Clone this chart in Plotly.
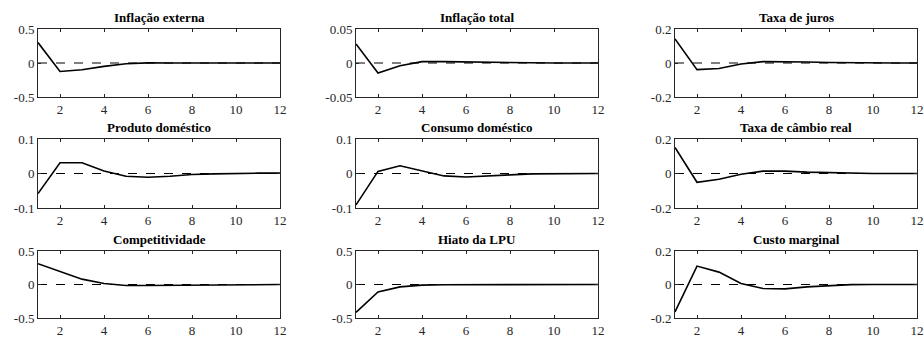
import plotly.graph_objects as go

periods = list(range(1, 13))

titles = ["Inflação externa", "Inflação total", "Taxa de juros",
          "Produto doméstico", "Consumo doméstico", "Taxa de câmbio real",
          "Competitividade", "Hiato da LPU", "Custo marginal"]

inflacao_externa = [0.30, -0.125, -0.10, -0.05, -0.012, 0.002, 0.001, 0.0, 0.0, 0.0, 0.0, 0.0]
inflacao_total = [0.028, -0.0147, -0.004, 0.002, 0.002, 0.0015, 0.0007, 0.0003, 0.0, 0.0, 0.0, 0.0]
taxa_juros = [0.142, -0.039, -0.032, -0.006, 0.008, 0.008, 0.006, 0.003, 0.001, 0.0, 0.0, 0.0]
produto_domestico = [-0.058, 0.031, 0.031, 0.007, -0.008, -0.011, -0.008, -0.003, -0.001, 0.001, 0.001, 0.001]
consumo_domestico = [-0.091, 0.006, 0.0225, 0.007, -0.007, -0.01, -0.008, -0.004, -0.001, 0.0, 0.0, 0.0]
cambio_real = [0.151, -0.051, -0.033, -0.004, 0.014, 0.014, 0.008, 0.004, 0.001, 0.0, 0.0, 0.0]
competitividade = [0.31, 0.19, 0.08, 0.015, -0.015, -0.015, -0.012, -0.005, 0.0, 0.0, 0.0, 0.0]
hiato_lpu = [-0.415, -0.11, -0.035, -0.01, -0.003, -0.001, 0.0, 0.0, 0.0, 0.0, 0.0, 0.0]
custo_marginal = [-0.164, 0.11, 0.074, 0.006, -0.024, -0.026, -0.014, -0.006, -0.001, 0.0, 0.0, 0.0]

series = [inflacao_externa, inflacao_total, taxa_juros,
          produto_domestico, consumo_domestico, cambio_real,
          competitividade, hiato_lpu, custo_marginal]

y_limits = [0.5, 0.05, 0.2, 0.1, 0.1, 0.2, 0.5, 0.5, 0.2]
x_ticks = [2, 4, 6, 8, 10, 12]

W, H = 924, 338
col_px = [(38, 280), (356, 598), (675, 917)]
row_px = [(29, 97), (139, 208), (251, 318)]

font_family = "'Times New Roman', 'Liberation Serif', 'DejaVu Serif', serif"
axis_color = "#262626"

fig = go.Figure()
layout = {}
for i in range(9):
    r, c = divmod(i, 3)
    n = "" if i == 0 else str(i + 1)
    xa, ya = "x" + n, "y" + n
    lim = y_limits[i]
    fig.add_trace(go.Scatter(x=[periods[0], periods[-1]], y=[0, 0], mode="lines",
                             line=dict(color="black", width=1, dash="dash"),
                             xaxis=xa, yaxis=ya, showlegend=False, hoverinfo="skip"))
    fig.add_trace(go.Scatter(x=periods, y=series[i], mode="lines",
                             line=dict(color="black", width=1.6),
                             xaxis=xa, yaxis=ya, showlegend=False))
    x0, x1 = col_px[c]
    y0, y1 = row_px[r]
    layout["xaxis" + n] = dict(
        domain=[x0 / W, x1 / W], anchor=ya, range=[1, 12], automargin=False,
        tickvals=x_ticks, ticks="inside", ticklen=3, tickcolor=axis_color,
        showline=True, linecolor=axis_color, linewidth=1, mirror="allticks",
        showgrid=False, zeroline=False,
        tickfont=dict(family=font_family, size=13, color=axis_color))
    layout["yaxis" + n] = dict(
        domain=[1 - y1 / H, 1 - y0 / H], anchor=xa, range=[-lim, lim], automargin=False,
        tickvals=[-lim, 0, lim], ticktext=[f"{-lim:g}", "0", f"{lim:g}"],
        ticks="inside", ticklen=3, tickcolor=axis_color,
        showline=True, linecolor=axis_color, linewidth=1, mirror="allticks",
        showgrid=False, zeroline=False,
        tickfont=dict(family=font_family, size=13, color=axis_color))
    fig.add_annotation(text="<b>" + titles[i] + "</b>", xref="paper", yref="paper",
                       x=(x0 + x1) / 2 / W, y=1 - (y0 - 2) / H, xanchor="center", yanchor="bottom",
                       showarrow=False, font=dict(family=font_family, size=13, color="black"))

fig.update_layout(**layout)
fig.update_layout(template="none", width=W, height=H, margin=dict(l=0, r=0, t=0, b=0, pad=0),
                  paper_bgcolor="white", plot_bgcolor="white", showlegend=False,
                  font=dict(family=font_family))
fig.write_html("out.html", config={"displayModeBar": False})

with open("out.html", "r", encoding="utf-8") as f:
    html = f.read()
html = html.replace("<head>", "<head><style>html,body{margin:0;padding:0;overflow:hidden;}</style>", 1)
with open("out.html", "w", encoding="utf-8") as f:
    f.write(html)
